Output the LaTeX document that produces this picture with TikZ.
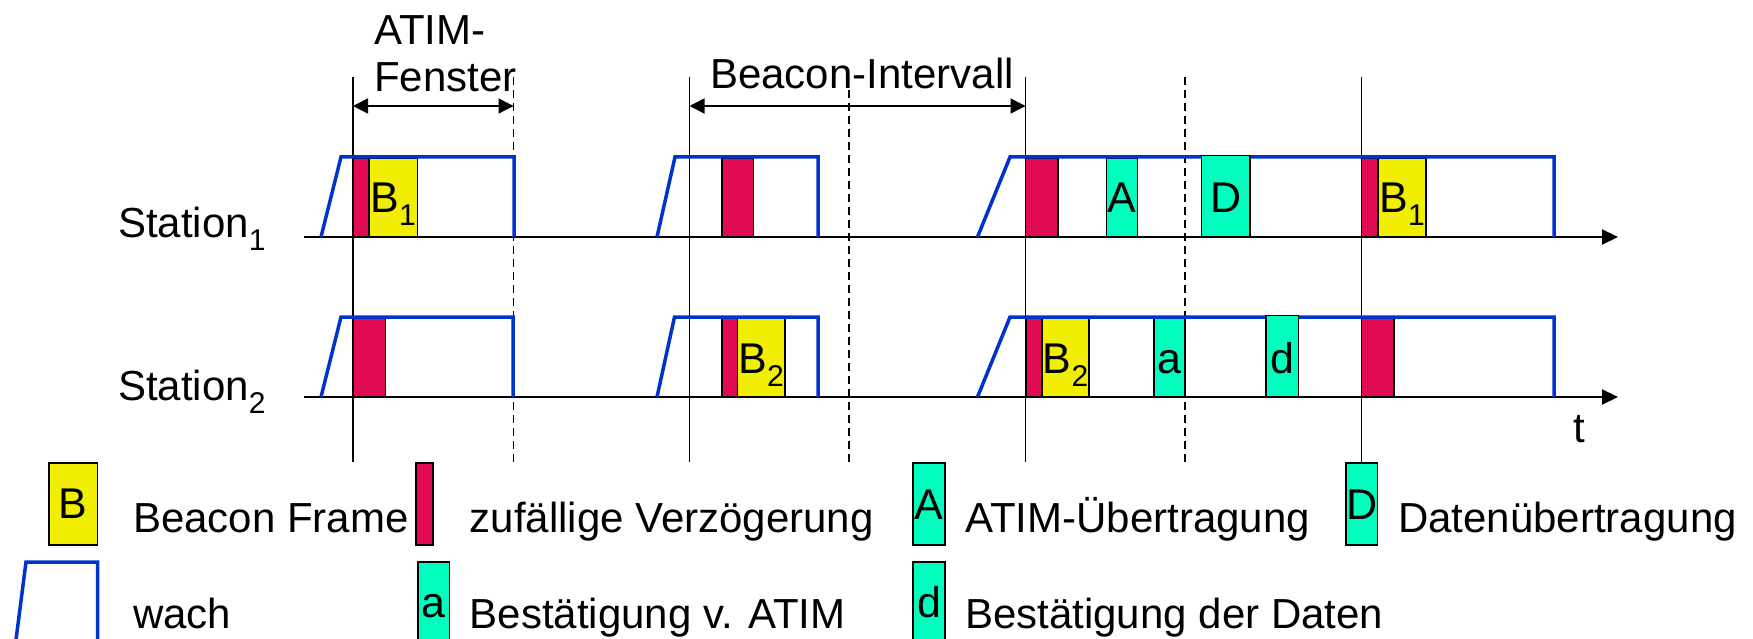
\documentclass[tikz,border=0pt]{standalone}
\usepackage{fontspec}
\setmainfont{Liberation Sans}
\usetikzlibrary{arrows.meta}
\definecolor{byel}{HTML}{F2EE00}
\definecolor{bred}{HTML}{E20A50}
\definecolor{bteal}{HTML}{00FFBF}
\definecolor{bblue}{HTML}{0033CC}
\newcommand\subtxt[1]{\raisebox{-13pt}{\fontsize{30}{30}\selectfont #1}}
\newcommand\fsz{\fontsize{43}{50}\selectfont}
\newcommand\fszb{\fontsize{42}{50}\selectfont}
\begin{document}
\begin{tikzpicture}[x=1pt,y=-1pt,
  frame/.style={draw=black,line width=1.5pt},
  guide/.style={draw=black,line width=1.5pt},
  gdash/.style={dash pattern=on 8pt off 5pt},
  axisline/.style={draw=black,line width=2pt,-{Triangle[length=16pt,width=15pt]}},
  dimline/.style={draw=black,line width=1.5pt,{Triangle[length=15pt,width=15pt]}-{Triangle[length=15pt,width=15pt]}},
  wake/.style={draw=bblue,line width=3.5pt,line join=miter},
  txt/.style={inner sep=0pt,anchor=base west,font=\fszb},
  lbl/.style={inner sep=0pt,anchor=base,font=\fsz}]
\useasboundingbox (0,0) rectangle (1753,639);
\clip (0,0) rectangle (1753,639);

% guide lines
\foreach \x in {353,689.5,1025.5,1361.7} \draw[guide] (\x,77) -- (\x,462);
\foreach \x in {513.5,849,1185} \draw[guide,gdash] (\x,77) -- (\x,462);

% top labels
\node[txt] (atim) at (374,45) {ATIM-};
\node[txt] (fenster) at (374,92) {Fenster};
\node[txt,fill=white] (bint) at (710,89) {Beacon-Intervall};

% dimension arrows
\coordinate (w1) at (353,106);
\coordinate (w2) at (513.5,106);
\coordinate (i1) at (689.5,106);
\coordinate (i2) at (1025.5,106);
\draw[dimline] (w1) -- (w2);
\draw[dimline] (i1) -- (i2);

% station labels
\node[txt] (st1) at (118,237) {Station\subtxt{1}};
\node[txt] (st2) at (118,400) {Station\subtxt{2}};

% axes
\coordinate (s1a) at (304,237);
\coordinate (s1b) at (1618,237);
\coordinate (s2a) at (304,397);
\coordinate (s2b) at (1618,397);
\draw[axisline] (s1a) -- (s1b);
\draw[axisline] (s2a) -- (s2b);
\node[txt] (tlab) at (1573,442) {t};

% station 1 frames
\draw[frame,fill=bred] (353,158) rectangle (369,237);
\draw[frame,fill=byel] (369,158) rectangle (417.5,237);
\draw[frame,fill=bred] (722,158) rectangle (753.5,237);
\draw[frame,fill=bred] (1025.5,158) rectangle (1058,237);
\draw[frame,fill=bteal] (1106.5,158) rectangle (1137.5,237);
\draw[frame,fill=bred] (1361.7,158) rectangle (1378,237);
\draw[frame,fill=byel] (1378,158) rectangle (1426,237);

% station 2 frames
\draw[frame,fill=bred] (353.6,317) rectangle (385.7,397);
\draw[frame,fill=bred] (722,317) rectangle (737.5,397);
\draw[frame,fill=byel] (737.5,317) rectangle (785,397);
\draw[frame,fill=bred] (1026,317) rectangle (1042,397);
\draw[frame,fill=byel] (1042,317) rectangle (1089,397);
\draw[frame,fill=bteal] (1154,317) rectangle (1185,397);
\draw[frame,fill=bred] (1361.5,317) rectangle (1394,397);

% awake periods
\draw[wake] (321,237) -- (341,157) -- (514,157) -- (514,237);
\draw[wake] (657,237) -- (675,157) -- (818,157) -- (818,237);
\draw[wake] (977.5,237) -- (1010,157) -- (1554,157) -- (1554,237);
\draw[wake] (321,397) -- (341,317) -- (513,317) -- (513,397);
\draw[wake] (657,397) -- (674.5,317) -- (818,317) -- (818,397);
\draw[wake] (977.5,397) -- (1010,317) -- (1554,317) -- (1554,397);

% frames above the wake line
\draw[frame,fill=bteal] (1201.7,155.5) rectangle (1250,237);
\draw[frame,fill=bteal] (1266,315.5) rectangle (1298.5,397);

% frame labels
\node[lbl] (l1) at (393.2,213) {B\subtxt{1}};
\node[lbl] (l2) at (1122,213) {A};
\node[lbl] (l3) at (1225.8,213) {D};
\node[lbl] (l4) at (1402,213) {B\subtxt{1}};
\node[lbl] (l5) at (761.2,373) {B\subtxt{2}};
\node[lbl] (l6) at (1065.5,373) {B\subtxt{2}};
\node[lbl] (l7) at (1169.5,373) {a};
\node[lbl] (l8) at (1282.2,373) {d};

% legend
\draw[frame,fill=byel] (49,463) rectangle (97.6,545);
\node[lbl] (gB) at (73.3,518) {B};
\node[txt] (gBt) at (133,532) {Beacon Frame};
\draw[frame,fill=bred] (416,463) rectangle (433,545);
\node[txt] (gRt) at (469.6,532) {zufällige Verzögerung};
\draw[frame,fill=bteal] (913,463) rectangle (945,545);
\node[lbl] (gA) at (929,519) {A};
\node[txt] (gAt) at (965,532) {ATIM-Übertragung};
\draw[frame,fill=bteal] (1346,463) rectangle (1377.5,545);
\node[lbl] (gD) at (1361.8,519) {D};
\node[txt] (gDt) at (1398,532) {Datenübertragung};

\draw[wake] (15.2,646) -- (26,562) -- (97.6,562) -- (97.6,646);
\node[txt] (gWt) at (133,628) {wach};
\draw[frame,fill=bteal] (418,562) rectangle (449.5,646);
\node[lbl] (ga) at (433.8,617) {a};
\node[txt] (gat) at (469.6,628) {Bestätigung v. ATIM};
\draw[frame,fill=bteal] (913,562) rectangle (945,646);
\node[lbl] (gd) at (929,617) {d};
\node[txt] (gdt) at (965,628) {Bestätigung der Daten};
\end{tikzpicture}
\end{document}
